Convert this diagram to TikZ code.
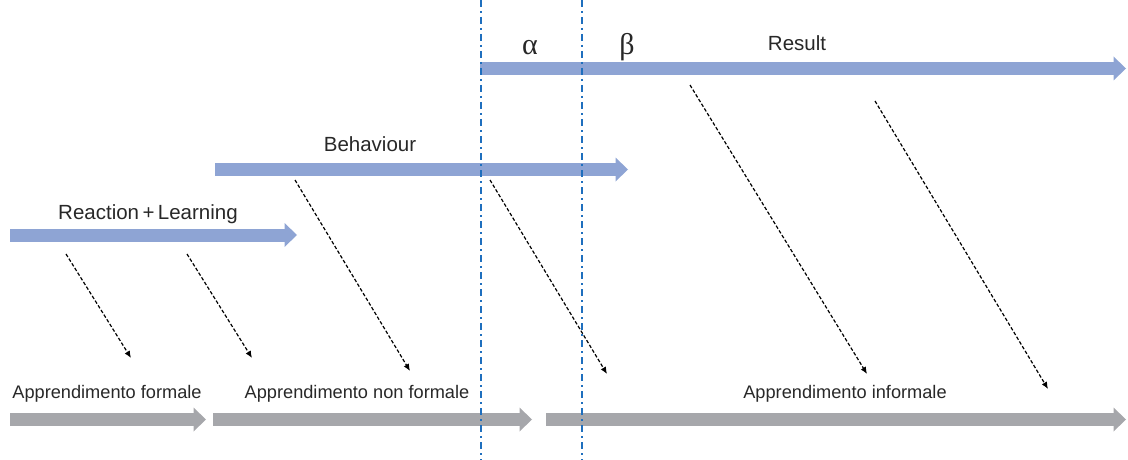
\documentclass[tikz,border=0pt]{standalone}
\usepackage{fontspec}
\setmainfont{Liberation Sans}
\newfontfamily\greekserif{Liberation Serif}
\usetikzlibrary{arrows.meta}
\definecolor{phaseblue}{RGB}{142,164,212}
\definecolor{contextgray}{RGB}{166,167,171}
\definecolor{splitblue}{RGB}{31,111,190}
\definecolor{labelgray}{RGB}{40,40,40}
\begin{document}
\begin{tikzpicture}[x=1pt,y=-1pt,
  fat/.style={line width=13pt,-{Triangle[length=12.5pt,width=24pt,line width=0pt]}},
  phase/.style={fat,draw=phaseblue,fill=phaseblue},
  context/.style={fat,draw=contextgray,fill=contextgray},
  influence/.style={draw=black,line width=1.2pt,dash pattern=on 3.5pt off 2pt,
    -{Latex[length=7pt,width=6pt]}},
  split/.style={draw=splitblue,line width=1.6pt,
    dash pattern=on 7pt off 4pt on 2pt off 4pt},
  title/.style={font=\fontsize{20.5}{24}\selectfont,anchor=base,text=labelgray,inner sep=0pt},
  ctx/.style={font=\fontsize{18.2}{22}\selectfont,anchor=base,text=labelgray,inner sep=0pt},
  greek/.style={font=\greekserif\fontsize{30}{32}\selectfont,anchor=base,text=labelgray,inner sep=0pt},
]
\useasboundingbox (0,0) rectangle (1128,460);

% evaluation levels
\coordinate (res-s) at (480,68.5);   \coordinate (res-e) at (1126,68.5);
\coordinate (beh-s) at (215,169.5);  \coordinate (beh-e) at (628,169.5);
\coordinate (rl-s)  at (10,235);     \coordinate (rl-e)  at (297,235);
\draw[phase] (res-s) -- (res-e);
\draw[phase] (beh-s) -- (beh-e);
\draw[phase] (rl-s) -- (rl-e);

% learning contexts
\coordinate (form-s)  at (10,419.5);  \coordinate (form-e)  at (206,419.5);
\coordinate (nform-s) at (213,419.5); \coordinate (nform-e) at (532,419.5);
\coordinate (inf-s)   at (546,419.5); \coordinate (inf-e)   at (1126,419.5);
\draw[context] (form-s) -- (form-e);
\draw[context] (nform-s) -- (nform-e);
\draw[context] (inf-s) -- (inf-e);

% labels
\node[title] (lres) at (797,51) {Result};
\node[title] (lbeh) at (370,151) {Behaviour};
\node[title] (lrl)  at (148,219) {Reaction{\,}+{\,}Learning};
\node[greek] (lalpha) at (530,55) {α};
\node[greek] (lbeta)  at (627,55) {β};
\node[ctx] (lform)  at (107,398) {Apprendimento formale};
\node[ctx] (lnform) at (357,398) {Apprendimento non formale};
\node[ctx] (linf)   at (845,398) {Apprendimento informale};

% influence links
\coordinate (i1s) at (66,254);   \coordinate (i1e) at (131,358);
\coordinate (i2s) at (187,254);  \coordinate (i2e) at (252,358);
\coordinate (i3s) at (295,180);  \coordinate (i3e) at (410,371);
\coordinate (i4s) at (490,180);  \coordinate (i4e) at (607,374);
\coordinate (i5s) at (690,85);   \coordinate (i5e) at (867,374);
\coordinate (i6s) at (875,101);  \coordinate (i6e) at (1048,389);
\foreach \i in {1,...,6} \draw[influence] (i\i s) -- (i\i e);

% alpha / beta boundaries
\coordinate (sa-t) at (481,0);  \coordinate (sa-b) at (481,460);
\coordinate (sb-t) at (582,0);  \coordinate (sb-b) at (582,460);
\draw[split] (sa-t) -- (sa-b);
\draw[split] (sb-t) -- (sb-b);
\end{tikzpicture}
\end{document}
